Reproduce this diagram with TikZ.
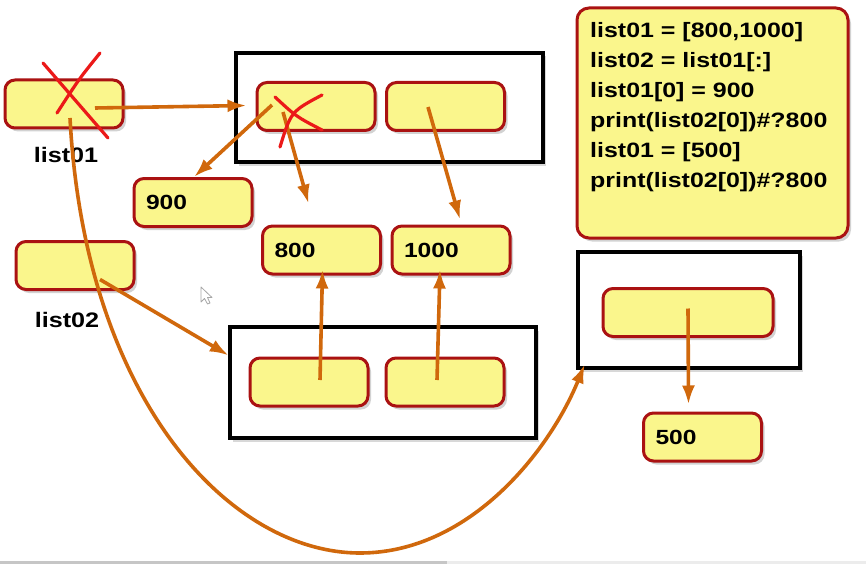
\documentclass[tikz,border=0pt]{standalone}
\usepackage{fontspec}
\setmainfont{Liberation Sans}
\newfontfamily\wfont[FakeStretch=1.2]{Liberation Sans}
\usetikzlibrary{arrows.meta,shadows,calc}
\definecolor{cellfill}{RGB}{250,246,140}
\definecolor{cellline}{RGB}{170,18,18}
\definecolor{arr}{RGB}{208,104,12}
\definecolor{xred}{RGB}{235,25,25}
\begin{document}
\begin{tikzpicture}[x=1pt,y=-1pt,
  cell/.style={draw=cellline,line width=3pt,fill=cellfill,rounded corners=10pt,
    minimum width=118pt,minimum height=48pt,inner sep=0pt,
    drop shadow={shadow xshift=3pt,shadow yshift=-3.5pt,opacity=0.35}},
  numcell/.style={cell,text width=94pt,align=left,font=\wfont\bfseries\fontsize{20.5}{24}\selectfont},
  frame/.style={draw=black,line width=4.5pt,fill=white,inner sep=0pt,
    drop shadow={shadow xshift=3pt,shadow yshift=-3.5pt,opacity=0.3}},
  ptr/.style={draw=arr,line width=3.6pt,-{Latex[length=19pt,width=13pt]}},
  cross/.style={draw=xred,line width=3.2pt,line cap=round},
  lbl/.style={font=\wfont\bfseries\fontsize{21}{24}\selectfont,inner sep=0pt}
]
\fill[white] (0,0) rectangle (866,564);
\useasboundingbox (0,0) rectangle (866,564);

% frames
\node[frame,minimum width=307pt,minimum height=109pt] (boxA) at (389.5,107.5) {};
\node[frame,minimum width=306pt,minimum height=111pt] (boxB) at (383,382.5) {};
\node[frame,minimum width=222pt,minimum height=116pt] (boxC) at (689,310) {};

% code box
\node[cell,minimum width=271pt,minimum height=230pt,rounded corners=12pt] (code) at (712.5,123) {};
\node[anchor=north west,align=left,inner sep=0pt,
  font=\wfont\bfseries\fontsize{20.8}{30}\selectfont] (codetext) at (590,22)
  {list01 = [800,1000]\\list02 = list01[:]\\list01[0] = 900\\print(list02[0])\#?800\\list01 = [500]\\print(list02[0])\#?800};

% variables
\node[cell] (l1) at (64,104) {};
\node[lbl] (l1lbl) at (66,155) {list01};
\node[cell] (l2) at (75,265.5) {};
\node[lbl] (l2lbl) at (67,320) {list02};

% cells
\node[cell] (a1) at (316,106.5) {};
\node[cell] (a2) at (445.5,106.5) {};
\node[cell] (b1) at (309,382) {};
\node[cell] (b2) at (445,382) {};
\node[cell,minimum width=170pt] (c1) at (688,312.5) {};

% values
\node[numcell] (n900) at (193,202.5) {900};
\node[numcell] (n800) at (321.5,250) {800};
\node[numcell] (n1000) at (451,250) {1000};
\node[numcell] (n500) at (702.5,437) {500};

% pointers
\draw[ptr] ($(l1.center)+(31,4)$) -- ($(a1.west)+(-9,-1)$);
\draw[ptr] ($(a1.center)+(-44,-1.5)$) -- ($(n900.north)+(1,0)$);
\draw[ptr] ($(a1.center)+(-33,5.5)$) -- ($(n800.north)+(-13,-21)$);
\draw[ptr] ($(a2.center)+(-17.5,0.5)$) -- ($(n1000.north)+(9,-5)$);
\draw[ptr] ($(b1.center)+(11,-2)$) -- ($(n800.south)+(1,-6)$);
\draw[ptr] ($(b2.center)+(-8,-2)$) -- ($(n1000.south)+(-11,-6)$);
\draw[ptr] ($(l2.center)+(25,14)$) -- ($(boxB.west)+(1,-27)$);
\draw[ptr] ($(c1.center)+(0,-4)$) -- ($(n500.north)+(-14,-7)$);
\coordinate (low) at (360,553);
\draw[ptr] ($(l1.center)+(6,14)$) .. controls (85,400) and (230,553) .. (low)
  .. controls (470,553) and (550,450) .. ($(boxC.south west)+(9,-6)$);

% crosses
\draw[cross] ($(l1.center)+(-21,-41)$) -- ($(l1.center)+(44,34)$);
\draw[cross] ($(l1.center)+(36,-51)$) .. controls ($(l1.center)+(15,-25)$) .. ($(l1.center)+(-7,9)$);
\draw[cross] ($(a1.center)+(-41,-9.5)$) .. controls ($(a1.center)+(-20,10)$) .. ($(a1.center)+(6,23.5)$);
\draw[cross] ($(a1.center)+(6,-11.5)$) .. controls ($(a1.center)+(-25,5)$) .. ($(a1.center)+(-36,40.5)$);

% mouse cursor
\draw[gray!70,fill=white,line width=0.8pt,line join=round] (201,287) -- (201,302) -- (204.5,298.5)
  -- (207.5,304) -- (210,303) -- (207.5,297.5) -- (212,297.5) -- cycle;

% progress bar
\fill[gray!45] (0,561) rectangle (447,564);
\fill[gray!15] (447,561) rectangle (866,564);
\end{tikzpicture}
\end{document}
